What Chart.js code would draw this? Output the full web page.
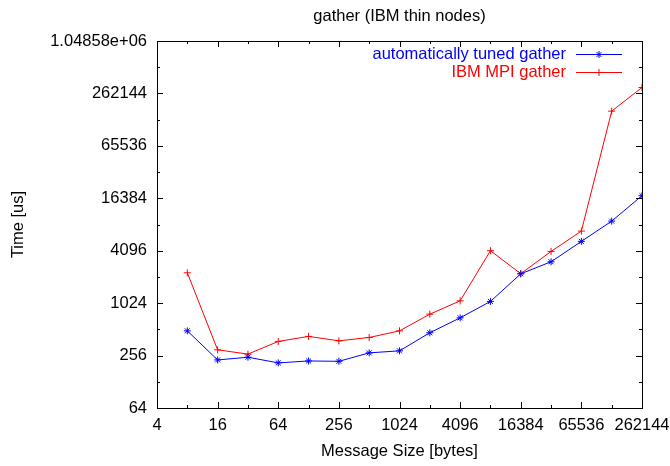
<!DOCTYPE html>
<html><head><meta charset="utf-8">
<script src="https://cdn.jsdelivr.net/npm/chart.js@4"></script>
<style>html,body{margin:0;padding:0;background:#fff}#wrap{width:670px;height:466px}</style>
</head><body><div id="wrap"><canvas id="c" width="670" height="466"></canvas></div>
<script>
const messageSizes = [8,16,32,64,128,256,512,1024,2048,4096,8192,16384,32768,65536,131072,262144];
const tunedGather = [492,228,245,211,222,220,275,290,468,694,1071,2224,3057,5240,8960,17560];
const ibmGather = [2283,298,266,372,425,378,413,492,765,1088,4096,2230,4020,6880,164000,307000];
const xTickValues = [4,16,64,256,1024,4096,16384,65536,262144];
const xTickLabels = ['4','16','64','256','1024','4096','16384','65536','262144'];
const xMinorTicks = [8,32,128,512,2048,8192,32768,131072];
const yTickValues = [64,256,1024,4096,16384,65536,262144,1048576];
const yTickLabels = ['64','256','1024','4096','16384','65536','262144','1.04858e+06'];
const yMinorTicks = [128,512,2048,8192,32768,131072,524288];
const seriesNames = ['automatically tuned gather','IBM MPI gather'];
const titleText = 'gather (IBM thin nodes)';
const xTitle = 'Message Size [bytes]';
const yTitle = 'Time [us]';

const FONT = "'Liberation Sans', Arial, sans-serif";
const FS = 16.5;

const toPts = arr => messageSizes.map((x, i) => ({x, y: arr[i]}));

const decor = {
  id: 'decor',
  afterDatasetsDraw(chart) {
    const ctx = chart.ctx, a = chart.chartArea;
    const xs = chart.scales.x, ys = chart.scales.y;
    ctx.save();
    ctx.strokeStyle = '#000'; ctx.lineWidth = 1;
    ctx.strokeRect(Math.round(a.left) + 0.5, Math.round(a.top) + 0.5, Math.round(a.right - a.left), Math.round(a.bottom - a.top));
    const tick = (v, len, axis) => {
      ctx.beginPath();
      if (axis === 'x') {
        const p = Math.round(xs.getPixelForValue(v)) + 0.5;
        ctx.moveTo(p, a.bottom); ctx.lineTo(p, a.bottom - len);
        ctx.moveTo(p, a.top); ctx.lineTo(p, a.top + len);
      } else {
        const p = Math.round(ys.getPixelForValue(v)) + 0.5;
        ctx.moveTo(a.left, p); ctx.lineTo(a.left + len, p);
        ctx.moveTo(a.right, p); ctx.lineTo(a.right - len, p);
      }
      ctx.stroke();
    };
    xTickValues.forEach(v => tick(v, 6, 'x'));
    xMinorTicks.forEach(v => tick(v, 3, 'x'));
    yTickValues.forEach(v => tick(v, 6, 'y'));
    yMinorTicks.forEach(v => tick(v, 3, 'y'));
    ctx.fillStyle = '#000';
    ctx.font = FS + 'px ' + FONT;
    ctx.textAlign = 'center'; ctx.textBaseline = 'middle';
    const cx = (a.left + a.right) / 2;
    ctx.fillText(titleText, cx, 16);
    ctx.fillText(xTitle, cx, 451);
    ctx.save();
    ctx.translate(18, (a.top + a.bottom) / 2);
    ctx.rotate(-Math.PI / 2);
    ctx.fillText(yTitle, 0, 0);
    ctx.restore();
    chart.data.datasets.forEach((ds, i) => {
      const y = 54 + i * 18;
      ctx.fillStyle = ds.borderColor;
      ctx.textAlign = 'right';
      ctx.fillText(ds.label, 566, y);
      ctx.strokeStyle = ds.borderColor; ctx.lineWidth = 1;
      ctx.beginPath(); ctx.moveTo(576, y + 0.5); ctx.lineTo(622, y + 0.5); ctx.stroke();
      Chart.helpers.drawPoint(ctx, {pointStyle: ds.pointStyle, rotation: 0, radius: ds.pointRadius, borderWidth: 1}, 599, y + 0.5);
    });
    ctx.restore();
  }
};

new Chart(document.getElementById('c'), {
  type: 'line',
  data: {
    datasets: [
      {label: seriesNames[0], data: toPts(tunedGather), borderColor: '#0000ff', backgroundColor: '#0000ff',
       borderWidth: 1, pointStyle: 'star', pointRadius: 3.5, pointBorderWidth: 1, tension: 0, fill: false},
      {label: seriesNames[1], data: toPts(ibmGather), borderColor: '#ff0000', backgroundColor: '#ff0000',
       borderWidth: 1, pointStyle: 'cross', pointRadius: 3.5, pointBorderWidth: 1, tension: 0, fill: false}
    ]
  },
  options: {
    responsive: false, animation: false, devicePixelRatio: 1,
    layout: {padding: {top: 41, right: 28, left: 0, bottom: 0}},
    plugins: {legend: {display: false}, title: {display: false}, tooltip: {enabled: false}},
    scales: {
      x: {
        type: 'logarithmic', min: 4, max: 262144,
        afterBuildTicks: s => { s.ticks = xTickValues.map(v => ({value: v})); },
        afterFit: s => { s.height = 58; s.paddingLeft = 0; s.paddingRight = 0; },
        ticks: {autoSkip: false, maxRotation: 0, minRotation: 0, padding: 8, color: '#000',
          font: {family: FONT, size: FS}, callback: (v, i) => xTickLabels[i]},
        grid: {display: false, drawTicks: false}, border: {display: false}
      },
      y: {
        type: 'logarithmic', min: 64, max: 1048576,
        afterBuildTicks: s => { s.ticks = yTickValues.map(v => ({value: v})); },
        afterFit: s => { s.width = 157; s.paddingTop = 0; s.paddingBottom = 0; },
        ticks: {autoSkip: false, padding: 10, color: '#000',
          font: {family: FONT, size: FS}, callback: (v, i) => yTickLabels[i]},
        grid: {display: false, drawTicks: false}, border: {display: false}
      }
    }
  },
  plugins: [decor]
});
</script>
</body></html>
